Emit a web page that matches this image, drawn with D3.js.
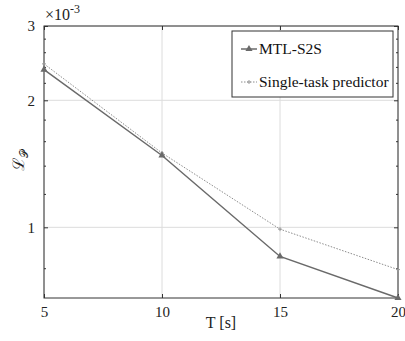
<!DOCTYPE html>
<html>
<head>
<meta charset="utf-8">
<script src="https://cdn.jsdelivr.net/npm/d3@7"></script>
<style>
  body { margin: 0; background: #fff; }
</style>
</head>
<body>
<div id="chart-container"></div>
<script>
// data (values in units of 1e-3)
const horizons = [5, 10, 15, 20];
const mtlS2S = [2.365, 1.48, 0.853, 0.68];
const singleTask = [2.44, 1.50, 0.99, 0.794];
const xTicks = [5, 10, 15, 20];
const yMajorTicks = [1, 2, 3];
const yMinorTicks = [0.8, 1.2, 1.4, 1.6, 1.8, 2.2, 2.4, 2.6, 2.8];
const seriesNames = ['MTL-S2S', 'Single-task predictor'];

const serif = 'Liberation Serif';

const width = 405;
const height = 341;
const margins = { top: 26, right: 7, bottom: 43, left: 44 };
const innerWidth = width - margins.left - margins.right;
const innerHeight = height - margins.top - margins.bottom;

const svg = d3.select('#chart-container').append('svg')
    .attr('width', width).attr('height', height)
    .attr('font-family', serif);

const g = svg.append('g')
    .attr('transform', `translate(${margins.left},${margins.top})`);

const x = d3.scaleLinear().domain([5, 20]).range([0, innerWidth]);
const y = d3.scaleLog().domain([0.68, 3]).range([innerHeight, 0]);

// grid
g.selectAll('.xgrid').data(xTicks).join('line')
    .attr('x1', d => x(d)).attr('x2', d => x(d))
    .attr('y1', 0).attr('y2', innerHeight)
    .attr('stroke', '#dcdcdc').attr('stroke-width', 1);
g.selectAll('.ygrid').data(yMajorTicks).join('line')
    .attr('x1', 0).attr('x2', innerWidth)
    .attr('y1', d => y(d)).attr('y2', d => y(d))
    .attr('stroke', '#dcdcdc').attr('stroke-width', 1);

// axes with inward ticks
const axisStyle = sel => {
    sel.attr('font-family', serif);
    sel.select('.domain').remove();
    sel.selectAll('line').attr('stroke', '#333');
    sel.selectAll('text').filter(function () { return this.textContent === ''; }).remove();
    sel.selectAll('text').attr('font-size', 15).attr('fill', '#222');
};
g.append('g').attr('transform', `translate(0,${innerHeight})`)
    .call(d3.axisBottom(x).tickValues(xTicks).tickSize(-4).tickPadding(8).tickFormat(d3.format('d')))
    .call(axisStyle);
g.append('g')
    .call(d3.axisTop(x).tickValues(xTicks).tickSize(-4).tickFormat(''))
    .call(axisStyle);
g.append('g')
    .call(d3.axisLeft(y).tickValues(yMajorTicks).tickSize(-4).tickPadding(9).tickFormat(d3.format('d')))
    .call(axisStyle);
g.append('g').attr('transform', `translate(${innerWidth},0)`)
    .call(d3.axisRight(y).tickValues(yMajorTicks).tickSize(-4).tickFormat(''))
    .call(axisStyle);
g.append('g')
    .call(d3.axisLeft(y).tickValues(yMinorTicks).tickSize(-2).tickFormat(''))
    .call(axisStyle);
g.append('g').attr('transform', `translate(${innerWidth},0)`)
    .call(d3.axisRight(y).tickValues(yMinorTicks).tickSize(-2).tickFormat(''))
    .call(axisStyle);

// box
g.append('rect')
    .attr('width', innerWidth).attr('height', innerHeight)
    .attr('fill', 'none').attr('stroke', '#333').attr('stroke-width', 1);

// lines
const line = d3.line().x((d, i) => x(horizons[i])).y(d => y(d));

g.append('path').datum(singleTask)
    .attr('d', line).attr('fill', 'none')
    .attr('stroke', '#8c8c8c').attr('stroke-width', 1)
    .attr('stroke-dasharray', '1.5,1.5');
g.selectAll('.st-mark').data(singleTask).join('path')
    .attr('transform', (d, i) => `translate(${x(horizons[i])},${y(d)})`)
    .attr('d', 'M-2,0H2M0,-2V2')
    .attr('stroke', '#9a9a9a').attr('stroke-width', 1);

g.append('path').datum(mtlS2S)
    .attr('d', line).attr('fill', 'none')
    .attr('stroke', '#6a6a6a').attr('stroke-width', 1.5);
const tri = d3.symbol().type(d3.symbolTriangle).size(22);
g.selectAll('.mtl-mark').data(mtlS2S).join('path')
    .attr('transform', (d, i) => `translate(${x(horizons[i])},${y(d)})`)
    .attr('d', tri)
    .attr('fill', '#6a6a6a');

// legend
const legend = svg.append('g').attr('transform', 'translate(232,31)');
legend.append('rect')
    .attr('width', 161).attr('height', 66)
    .attr('fill', '#fff').attr('stroke', '#333').attr('stroke-width', 1);
const legendItem = legend.selectAll('.legend-item')
    .data(seriesNames).join('g')
    .attr('transform', (_, i) => `translate(0,${18 + i * 33})`);
legendItem.append('line')
    .attr('x1', 9).attr('x2', 25)
    .attr('stroke', (d, i) => i === 0 ? '#6a6a6a' : '#8c8c8c')
    .attr('stroke-width', (d, i) => i === 0 ? 1.5 : 1)
    .attr('stroke-dasharray', (d, i) => i === 0 ? null : '1.5,1.5');
legendItem.append('path')
    .attr('transform', 'translate(17,0)')
    .attr('d', (d, i) => i === 0 ? tri() : 'M-2,0H2M0,-2V2')
    .attr('fill', '#6a6a6a')
    .attr('stroke', (d, i) => i === 0 ? 'none' : '#9a9a9a');
legendItem.append('text')
    .attr('x', 27).attr('y', 5)
    .attr('font-size', 15.5).attr('fill', '#111')
    .text(d => d);

// exponent label
const expo = svg.append('text').attr('x', 45).attr('y', 20)
    .attr('font-size', 16).attr('fill', '#222');
expo.append('tspan').text('\u00d710');
expo.append('tspan').attr('dy', -7).attr('font-size', 12).text('-3');

// axis labels
svg.append('text')
    .attr('x', margins.left + innerWidth / 2).attr('y', 328)
    .attr('text-anchor', 'middle').attr('font-size', 16).attr('fill', '#222')
    .text('T [s]');

const ylab = svg.append('text')
    .attr('transform', `translate(24,${margins.top + innerHeight / 2 - 2}) rotate(-90)`)
    .attr('text-anchor', 'middle').attr('font-size', 16).attr('fill', '#222');
ylab.append('tspan').text('\u2112');
ylab.append('tspan').attr('dy', 4).attr('font-size', 11).text('\u{1D4AB}');
</script>
</body>
</html>
